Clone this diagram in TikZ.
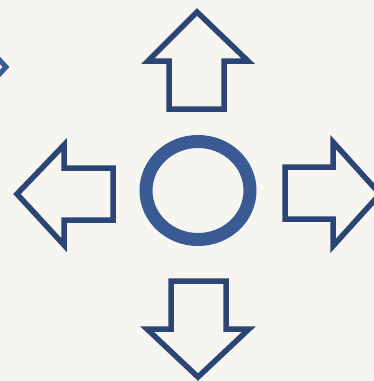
\documentclass[tikz,border=0pt]{standalone}
\usepackage{tikz}
\definecolor{paper}{HTML}{F6F5F0}
\definecolor{arrowblue}{HTML}{2B4574}
\definecolor{ringblue}{HTML}{3A5A93}
\begin{document}
\begin{tikzpicture}[x=1pt,y=-1pt,
  blockarrow/.style={draw=arrowblue,line width=5.5pt,fill=paper,line join=miter,miter limit=10},
  ring/.style={draw=ringblue,line width=13pt}]
\fill[paper] (0,0) rectangle (374,381);
\useasboundingbox (0,0) rectangle (374,381);
\begin{scope}
\clip (0,0) rectangle (374,381);
% centre ring
\coordinate (c) at (198,190.5);
\draw[ring] (c) ellipse [x radius=52, y radius=49];
% up arrow
\draw[blockarrow] (197,12) -- (248,61) -- (224,61) -- (224,109) -- (169,109) -- (169,61) -- (148,61) -- cycle;
% left arrow
\draw[blockarrow] (17,194) -- (64,145) -- (64,168) -- (113,168) -- (113,220) -- (64,220) -- (64,245) -- cycle;
% right arrow
\draw[blockarrow] (380,194) -- (333,246) -- (333,219) -- (285,219) -- (285,167) -- (333,167) -- (333,142) -- cycle;
% down arrow
\draw[blockarrow] (198,377) -- (147,329) -- (171,329) -- (171,281) -- (226,281) -- (226,329) -- (249,329) -- cycle;
% fragment at top-left edge
\draw[draw=ringblue,line width=5pt,line join=miter] (-6,54) -- (6,67) -- (-6,80);
\end{scope}
\end{tikzpicture}
\end{document}
